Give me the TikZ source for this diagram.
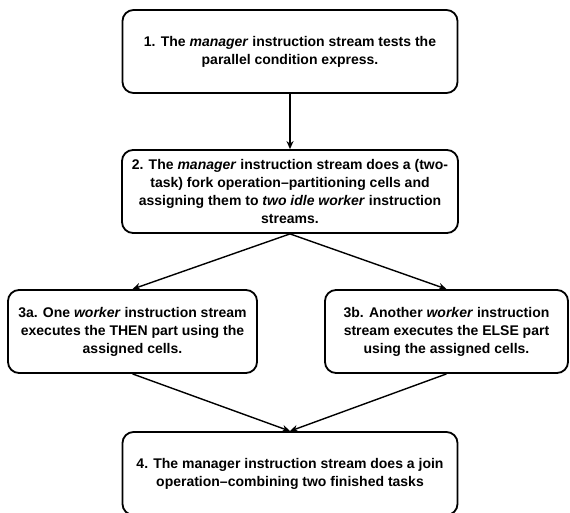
\documentclass[tikz,border=0pt]{standalone}
\usepackage{fontspec}
\setmainfont{Liberation Sans}
\usetikzlibrary{arrows.meta}

\begin{document}
\begin{tikzpicture}[x=1pt,y=1pt,node distance=140pt,
  step box/.style={draw,line width=1.8pt,rounded corners=11pt,align=center,inner sep=0pt,
    minimum height=83pt,font=\fontsize{14}{18}\selectfont\bfseries},
  flow/.style={-{Stealth[length=8pt,width=7pt]},line width=1.4pt}]
  \useasboundingbox (0,0) rectangle (570,-513);

  \node[step box,minimum width=335pt] (1) at (290,-51.5) {1. The \textit{manager} instruction stream tests the\\parallel condition express.};
  \node[step box,minimum width=336pt] (2) [below of = 1] {2. The \textit{manager} instruction stream does a (two-\\task) fork operation–partitioning cells and\\assigning them to \textit{two idle worker} instruction\\streams.};
  \node[step box,minimum width=249pt] (3a) [below of = 2, xshift=-157.5pt] {3a. One \textit{worker} instruction stream\\executes the THEN part using the\\assigned cells.};
  \node[step box,minimum width=243pt] (3b) [below of = 2, xshift=156.5pt] {3b. Another \textit{worker} instruction\\stream executes the ELSE part\\using the assigned cells.};
  \node[step box,minimum width=335pt] (4) at (290,-473.5) {4. The manager instruction stream does a join\\operation–combining two finished tasks};

  \path[flow]
    (1) edge (2)
    (2.south) edge (3a.north)
    (2.south) edge (3b.north)
    (3a.south) edge (4.north)
    (3b.south) edge (4.north)
    ;
\end{tikzpicture}
\end{document}
